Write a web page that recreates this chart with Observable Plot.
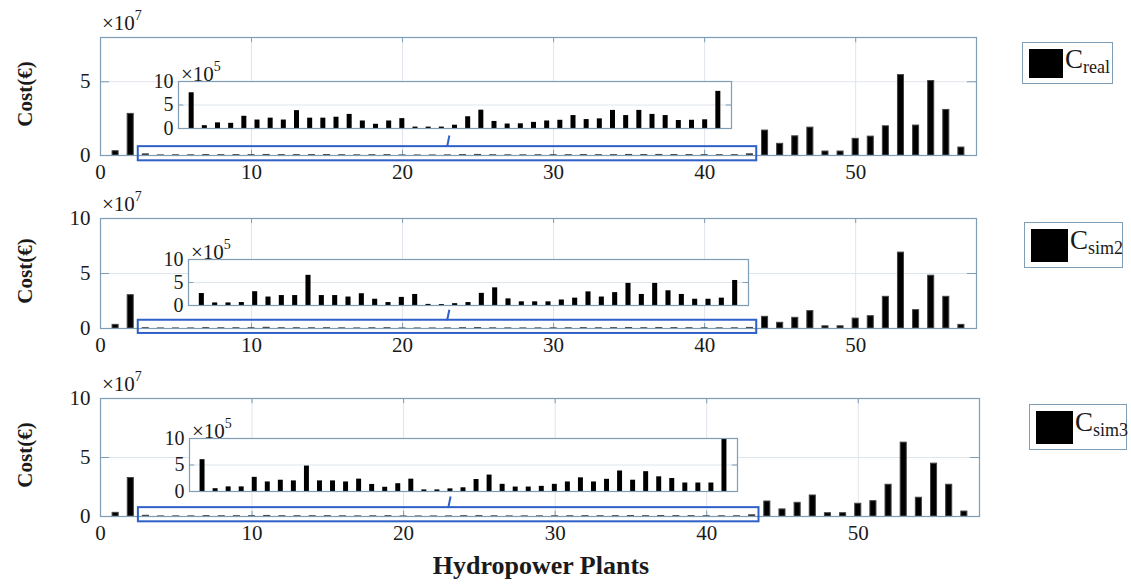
<!DOCTYPE html>
<html><head><meta charset="utf-8">
<script src="https://cdn.jsdelivr.net/npm/d3@7"></script>
<script src="https://cdn.jsdelivr.net/npm/@observablehq/plot@0.6"></script>
<style>
body{margin:0;background:#fff;}
#root{position:relative;width:1131px;height:585px;overflow:hidden;font-family:"Liberation Serif","Times New Roman",serif;color:#1a1a1a;}
#root svg{position:absolute;overflow:visible;}
.t{position:absolute;white-space:nowrap;line-height:1;}
.exp{font-size:21px;}
.exp sup{font-size:14px;position:relative;top:-2px;}
.ylab{font-weight:bold;font-size:21px;transform:translate(-50%,-50%) rotate(-90deg);}
.xlab{font-weight:bold;font-size:26px;transform:translate(-50%,-50%);}
.leg{position:absolute;border:1.5px solid #7f9db5;background:#fff;box-sizing:border-box;}
.leg .sw{position:absolute;background:#000;}
.leg .lt{position:absolute;font-size:27px;line-height:1;}
.leg .lt sub{font-size:18px;position:relative;top:5px;vertical-align:baseline;}
</style></head><body><div id="root"></div>
<script>
// ---- data (cost in €) ----
const plants = d3.range(1, 58); // hydropower plants 1..57
const cReal = [
  0.29e7, 2.82e7,
  7.6e5, 0.6e5, 1.2e5, 1.1e5, 2.6e5, 1.8e5, 2.2e5, 1.8e5, 3.8e5, 2.2e5, 2.2e5, 2.4e5, 3.0e5, 1.6e5, 0.9e5, 1.6e5, 2.1e5,
  0.3e5, 0.3e5, 0.3e5, 0.7e5, 2.5e5, 3.9e5, 1.5e5, 0.95e5, 1.0e5, 1.3e5, 1.6e5, 1.75e5, 2.75e5, 1.9e5, 2.05e5, 3.85e5, 2.75e5, 3.85e5, 3.0e5, 2.75e5, 1.7e5, 1.75e5, 1.85e5, 7.9e5,
  1.69e7, 0.79e7, 1.3e7, 1.89e7, 0.27e7, 0.27e7, 1.13e7, 1.28e7, 1.98e7, 5.45e7, 2.03e7, 5.05e7, 3.09e7, 0.54e7
];
const cSim2 = [
  0.33e7, 3.03e7,
  2.6e5, 0.56e5, 0.56e5, 0.64e5, 3.0e5, 1.84e5, 2.16e5, 2.16e5, 6.56e5, 2.16e5, 2.16e5, 1.84e5, 2.56e5, 1.36e5, 0.64e5, 1.76e5, 2.4e5,
  0.24e5, 0.2e5, 0.4e5, 0.64e5, 2.64e5, 3.84e5, 1.44e5, 0.8e5, 0.8e5, 0.8e5, 1.2e5, 1.6e5, 2.96e5, 1.84e5, 2.8e5, 4.8e5, 2.4e5, 4.8e5, 3.2e5, 2.4e5, 1.36e5, 1.36e5, 1.6e5, 5.44e5,
  1.06e7, 0.52e7, 0.97e7, 1.58e7, 0.2e7, 0.2e7, 0.9e7, 1.12e7, 2.88e7, 6.9e7, 1.67e7, 4.8e7, 2.88e7, 0.33e7
];
const cSim3 = [
  0.31e7, 3.26e7,
  6.0e5, 0.53e5, 0.87e5, 0.87e5, 2.67e5, 1.8e5, 2.13e5, 2.0e5, 4.8e5, 2.0e5, 2.0e5, 1.8e5, 2.33e5, 1.33e5, 0.8e5, 1.47e5, 2.33e5,
  0.3e5, 0.3e5, 0.5e5, 0.7e5, 2.26e5, 3.1e5, 1.35e5, 0.84e5, 0.84e5, 0.97e5, 1.35e5, 1.8e5, 2.58e5, 1.8e5, 2.3e5, 3.87e5, 2.13e5, 3.74e5, 2.77e5, 2.45e5, 1.6e5, 1.6e5, 1.6e5, 10.0e5,
  1.27e7, 0.6e7, 1.16e7, 1.78e7, 0.28e7, 0.28e7, 1.08e7, 1.3e7, 2.69e7, 6.26e7, 1.59e7, 4.48e7, 2.69e7, 0.42e7
];
const seriesNames = ["real", "sim2", "sim3"];
const xTicks = [0, 10, 20, 30, 40, 50];
const zoomPlants = [3, 43];
const insetTicks = [0, 5e5, 10e5];

// ---- layout ----
const AX = "#7f9db5", GRID = "#dfe5ec", ZOOM = "#2f5fc8";
const FONT = "'Liberation Serif','Times New Roman',serif";
const panels = [
  {series: cReal, name: seriesNames[0], ymax: 8e7, yticks: [0, 5e7],
   frame: {l: 100, r: 976, t: 37, b: 155}, inset: {l: 178, r: 731, t: 81, b: 128},
   legend: {l: 1022, t: 42, w: 91, h: 42}},
  {series: cSim2, name: seriesNames[1], ymax: 10e7, yticks: [0, 5e7, 10e7],
   frame: {l: 100, r: 976, t: 218, b: 328}, inset: {l: 188, r: 748, t: 259, b: 305},
   legend: {l: 1024, t: 222, w: 99, h: 46}},
  {series: cSim3, name: seriesNames[2], ymax: 10e7, yticks: [0, 5e7, 10e7],
   frame: {l: 100, r: 979, t: 398, b: 516}, inset: {l: 189, r: 737, t: 438, b: 491},
   legend: {l: 1029, t: 404, w: 98, h: 46}}
];

const root = document.getElementById("root");
function place(el, left, top) { el.style.left = left + "px"; el.style.top = top + "px"; root.appendChild(el); return el; }
function div(cls, html, left, top) { const d = document.createElement("div"); d.className = cls; d.innerHTML = html; return place(d, left, top); }

panels.forEach(P => {
  const data = plants.map((p, i) => ({plant: p, value: P.series[i]}));
  const zoomData = data.filter(d => d.plant >= zoomPlants[0] && d.plant <= zoomPlants[1]);
  const F = P.frame, mt = 12, mb = 42;
  const xmax = 58;
  const zoomBox = [{x1: zoomPlants[0] - 0.5, x2: zoomPlants[1] + 0.45, y1: -0.045 * P.ymax, y2: 0.075 * P.ymax}];
  const connector = [{x1: 22.95, x2: 23.1, y1: 0.075 * P.ymax, y2: 0.17 * P.ymax}];
  const main = Plot.plot({
    width: 1131, height: (F.b - F.t) + mt + mb,
    marginLeft: F.l, marginRight: 1131 - F.r, marginTop: mt, marginBottom: mb,
    style: {fontFamily: FONT, fontSize: "21px", color: "#1a1a1a", background: "transparent"},
    x: {domain: [0, xmax], ticks: xTicks, tickFormat: d3.format("d"), tickSize: 0, tickPadding: 9, label: null},
    y: {domain: [0, P.ymax], ticks: P.yticks, tickFormat: d => d / 1e7, tickSize: 0, tickPadding: 10, label: null},
    marks: [
      Plot.gridX(xTicks.filter(t => t > 0), {stroke: GRID, strokeOpacity: 1}),
      Plot.gridY(P.yticks.filter(t => t > 0 && t < P.ymax), {stroke: GRID, strokeOpacity: 1}),
      Plot.ruleX(xTicks.filter(t => t > 0), {y1: 0, y2: 0.045 * P.ymax, stroke: AX}),
      Plot.ruleX(xTicks.filter(t => t > 0), {y1: P.ymax, y2: 0.955 * P.ymax, stroke: AX}),
      Plot.ruleY(P.yticks.filter(t => t > 0 && t < P.ymax), {x1: 0, x2: 0.6, stroke: AX}),
      Plot.ruleY(P.yticks.filter(t => t > 0 && t < P.ymax), {x1: xmax, x2: xmax - 0.6, stroke: AX}),
      Plot.rectY(data, {x1: d => d.plant - 0.2, x2: d => d.plant + 0.2, y1: 0, y2: "value", fill: "black", stroke: "#444", strokeWidth: 1}),
      Plot.frame({stroke: AX, strokeWidth: 1.2}),
      Plot.rect(zoomBox, {x1: "x1", x2: "x2", y1: "y1", y2: "y2", stroke: ZOOM, strokeWidth: 2, fill: "none"}),
      Plot.link(connector, {x1: "x1", x2: "x2", y1: "y1", y2: "y2", stroke: ZOOM, strokeWidth: 2})
    ]
  });
  place(main, 0, F.t - mt);

  // inset
  const I = P.inset, iml = 40, imr = 6, imt = 4, imb = 4;
  const inset = Plot.plot({
    width: (I.r - I.l) + iml + imr, height: (I.b - I.t) + imt + imb,
    marginLeft: iml, marginRight: imr, marginTop: imt, marginBottom: imb,
    style: {fontFamily: FONT, fontSize: "20px", color: "#1a1a1a", background: "transparent"},
    x: {domain: [zoomPlants[0] - 1, zoomPlants[1] + 1], axis: null},
    y: {domain: [0, 10e5], ticks: insetTicks, tickFormat: d => d / 1e5, tickSize: 0, tickPadding: 5, label: null},
    marks: [
      Plot.frame({fill: "white", stroke: null}),
      Plot.gridY([5e5], {stroke: GRID, strokeOpacity: 1}),
      Plot.ruleY([5e5], {x1: zoomPlants[0] - 1, x2: zoomPlants[0] - 0.6, stroke: AX}),
      Plot.ruleY([5e5], {x1: zoomPlants[1] + 1, x2: zoomPlants[1] + 0.6, stroke: AX}),
      Plot.rectY(zoomData, {x1: d => d.plant - 0.19, x2: d => d.plant + 0.19, y1: 0, y2: "value", fill: "black"}),
      Plot.frame({stroke: AX, strokeWidth: 1.2})
    ]
  });
  place(inset, I.l - iml, I.t - imt);

  // exponent labels
  div("t exp", "×10<sup>7</sup>", F.l + 2, F.t - 26);
  div("t exp", "×10<sup>5</sup>", I.l + 3, I.t - 19);
  // y label
  div("t ylab", "Cost(€)", 25, (F.t + F.b) / 2 - 2);
  // legend
  const L = P.legend;
  const lg = document.createElement("div");
  lg.className = "leg";
  lg.style.width = L.w + "px"; lg.style.height = L.h + "px";
  lg.innerHTML = `<div class="sw" style="left:6px;top:6px;width:${Math.round(L.h*0.8)}px;height:${L.h-13}px"></div>` +
    `<div class="lt" style="left:${Math.round(L.h*0.8)+8}px;top:${Math.round(L.h*0.08)}px">C<sub>${P.name}</sub></div>`;
  place(lg, L.l, L.t);
});
div("t xlab", "Hydropower Plants", 541, 566);
</script></body></html>
